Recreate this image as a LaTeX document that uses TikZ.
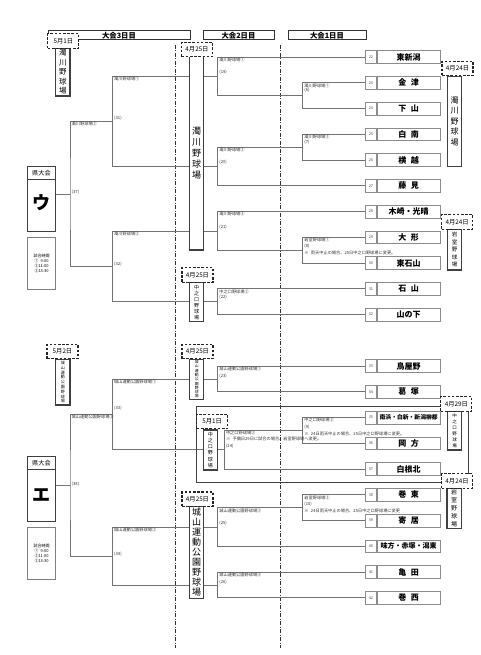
\documentclass[tikz,border=0pt]{standalone}
\usepackage{fontspec}
\setmainfont{Noto Sans CJK JP}[WordSpace=2.5]
\newcommand\teamrow[4]{%
  \node[numbox] (n#1) at (376.7,#2) {#1};
  \node[namebox, font=\bfseries\fontsize{#4}{#4}\selectfont] (t#1) at (376.7,#2) {#3};}
\begin{document}
\begin{tikzpicture}[x=1pt,y=-1pt,
  conn/.style={draw=black!55, line width=0.6pt},
  dashdot/.style={draw=black!80, line width=0.6pt, dash pattern=on 4pt off 1.5pt on 1pt off 1.5pt},
  hdr/.style={draw=black!80, line width=0.8pt, fill=white, minimum height=8.8, inner sep=0, font=\bfseries\fontsize{7.3}{8}\selectfont},
  datebox/.style={draw=black!85, line width=1.1pt, dash pattern=on 2.6pt off 1.6pt, fill=white, minimum width=31, minimum height=14.5, inner sep=0, font=\fontsize{6.3}{7}\selectfont},
  venue/.style={draw=black!75, line width=1.3pt, fill=white, minimum width=14.3, inner sep=0, align=center},
  numbox/.style={draw=black!45, line width=0.6pt, fill=white, minimum width=11, minimum height=12.7, inner sep=0, font=\fontsize{3.8}{4}\selectfont, text=black!70, anchor=east},
  namebox/.style={draw=black!45, line width=0.6pt, fill=white, minimum width=63.3, minimum height=12.7, inner sep=0, anchor=west},
  lbl/.style={anchor=west, inner sep=0, font=\fontsize{4.2}{4.5}\selectfont, text=black!80},
  encl/.style={draw=black!75, line width=1pt},
  kenbox/.style={draw=black!75, line width=1pt, minimum width=28.4, inner sep=0},
  timebox/.style={draw=black!50, line width=0.6pt, minimum width=28.4, inner sep=0, align=center, font=\fontsize{4}{5}\selectfont}
]
\useasboundingbox (0,0) rectangle (480,655);

% day separators
\draw[dashdot] (175.7,45) -- (175.7,648);
\draw[dashdot] (280.7,45) -- (280.7,648);

% headers
\node[hdr, minimum width=142] (h3) at (119,35.3) {大会3日目};
\node[hdr, minimum width=71] (h2) at (238.5,35.3) {大会2日目};
\node[hdr, minimum width=78] (h1) at (327,35.3) {大会1日目};

% teams
\teamrow{22}{57}{東新潟}{8}
\teamrow{23}{82.75}{金 津}{8}
\teamrow{24}{108.5}{下 山}{8}
\teamrow{25}{134.25}{白 南}{8}
\teamrow{26}{160}{横 越}{8}
\teamrow{27}{185.75}{藤 見}{8}
\teamrow{28}{211.5}{木崎・光晴}{8}
\teamrow{29}{237.25}{大 形}{8}
\teamrow{30}{263}{東石山}{8}
\teamrow{31}{288.75}{石 山}{8}
\teamrow{32}{314.5}{山の下}{8}
\teamrow{33}{366}{鳥屋野}{8}
\teamrow{34}{391.75}{葛 塚}{8}
\teamrow{35}{417.5}{南浜・白新・新潟柳都}{5.8}
\teamrow{36}{443.25}{岡 方}{8}
\teamrow{37}{469}{白根北}{8}
\teamrow{38}{494.75}{巻 東}{8}
\teamrow{39}{520.5}{寄 居}{8}
\teamrow{40}{546.25}{味方・赤塚・潟東}{7}
\teamrow{41}{572}{亀 田}{8}
\teamrow{42}{597.75}{巻 西}{8}

% left boxes
\node[kenbox, minimum height=64.3] (uBox) at (41.5,198.85) {};
\draw[draw=black!75, line width=0.8pt] (uBox.west |- 0,179.3) -- (uBox.east |- 0,179.3);
\node[inner sep=0, font=\fontsize{6.2}{7}\selectfont] (uKen) at (41.5,173) {県大会};
\node[inner sep=0, font=\bfseries\fontsize{18}{18}\selectfont] (uMark) at (41.5,203) {ウ};
\node[timebox, minimum height=51.7] (uTime) at (41.5,263.15) {試合時間\\①\ 9:00\\②11:00\\③13:30};

\node[kenbox, minimum height=65] (eBox) at (41.5,489.2) {};
\draw[draw=black!75, line width=0.8pt] (eBox.west |- 0,469.5) -- (eBox.east |- 0,469.5);
\node[inner sep=0, font=\fontsize{6.2}{7}\selectfont] (eKen) at (41.5,463.2) {県大会};
\node[inner sep=0, font=\bfseries\fontsize{18}{18}\selectfont] (eMark) at (41.5,495) {エ};
\node[timebox, minimum height=52] (eTime) at (41.5,553.3) {試合時間\\①\ 9:00\\②11:00\\③13:30};

% match points
\coordinate (m6) at (302.7,95.625);
\coordinate (m7) at (302.7,147.125);
\coordinate (m8) at (302.7,250.125);
\coordinate (m9) at (302.7,430.375);
\coordinate (m10) at (302.7,507.625);
\coordinate (m19) at (217.7,76.3);
\coordinate (m20) at (217.7,166.44);
\coordinate (m21) at (217.7,230.81);
\coordinate (m22) at (217.7,301.63);
\coordinate (m23) at (217.7,378.88);
\coordinate (m24) at (224.3,449.69);
\coordinate (m25) at (217.7,526.94);
\coordinate (m26) at (217.7,584.88);
\coordinate (m31) at (112.5,121.38);
\coordinate (m32) at (112.5,266.22);
\coordinate (m33) at (112.5,414.28);
\coordinate (m34) at (112.5,555.9);
\coordinate (m37) at (70,193.8);
\coordinate (m38) at (70,485.1);

% connectors, upper bracket
\draw[conn] (n23.west) -| (m6) |- (n24.west);
\draw[conn] (n25.west) -| (m7) |- (n26.west);
\draw[conn] (n29.west) -| (m8) |- (n30.west);
\draw[conn] (n22.west) -| (m19) |- (m6);
\draw[conn] (m7) -| (m20) |- (n27.west);
\draw[conn] (n28.west) -| (m21) |- (m8);
\draw[conn] (n31.west) -| (m22) |- (n32.west);
\draw[conn] (m19) -| (m31) |- (m20);
\draw[conn] (m21) -| (m32) |- (m22);
\draw[conn] (m31) -| (m37) |- (m32);
\draw[conn] (m37) -- (m37 -| uBox.east);

% connectors, lower bracket
\draw[conn] (n33.west) -| (m23) |- (n34.west);
\draw[conn] (n35.west) -| (m9) |- (n36.west);
\draw[conn] (m9) -| (m24) |- (n37.west);
\draw[conn] (n38.west) -| (m10) |- (n39.west);
\draw[conn] (m10) -| (m25) |- (n40.west);
\draw[conn] (n41.west) -| (m26) |- (n42.west);
\draw[conn] (m23) -| (m33) |- (m24);
\draw[conn] (m25) -| (m34) |- (m26);
\draw[conn] (m33) -| (m38) |- (m34);
\draw[conn] (m38) -- (m38 -| eBox.east);

% enclosing frame of group 35-37
\draw[encl] (196.7,406) rectangle (468.3,482);

% venue boxes
\node[venue, minimum height=47.7, font=\fontsize{7.5}{9.5}\selectfont] (vA) at (62.85,72.15) {濁\\川\\野\\球\\場};
\node[venue, minimum height=193.3, font=\fontsize{9}{11}\selectfont] (vB) at (196.65,153.35) {濁\\川\\野\\球\\場};
\node[venue, minimum height=90.7, font=\fontsize{8}{10.5}\selectfont] (vC) at (454.5,121.35) {濁\\川\\野\\球\\場};
\node[venue, minimum height=40.7, font=\fontsize{5.5}{7.5}\selectfont] (vD) at (454.5,249.65) {岩\\室\\野\\球\\場};
\node[venue, minimum height=39, font=\fontsize{5}{6}\selectfont] (vE) at (196.65,302.2) {中\\之\\口\\野\\球\\場};
\node[venue, minimum height=45.7, font=\fontsize{4}{4.8}\selectfont] (vF) at (62.85,382.15) {城\\山\\運\\動\\公\\園\\野\\球\\場};
\node[venue, minimum height=40, font=\fontsize{3.8}{4.3}\selectfont] (vG) at (196.65,379.3) {城\\山\\運\\動\\公\\園\\野\\球\\場};
\node[venue, minimum height=39, font=\fontsize{4.5}{6}\selectfont] (vH) at (454.65,430.5) {中\\之\\口\\野\\球\\場};
\node[venue, minimum height=40, font=\fontsize{5}{6.2}\selectfont] (vI) at (210.4,450) {中\\之\\口\\野\\球\\場};
\node[venue, minimum height=40, font=\fontsize{6}{8}\selectfont] (vJ) at (454.2,508.3) {岩\\室\\野\\球\\場};
\node[venue, minimum height=91.6, font=\fontsize{9}{10}\selectfont] (vK) at (196.65,552.5) {城\\山\\運\\動\\公\\園\\野\\球\\場};

% date boxes
\node[datebox] (dA) at (63.35,41.2) {5月1日};
\node[datebox] (dB) at (197,49.5) {4月25日};
\node[datebox] (dC) at (457.5,68.35) {4月24日};
\node[datebox] (dD) at (457.2,221.8) {4月24日};
\node[datebox] (dE) at (197.5,275) {4月25日};
\node[datebox] (dF) at (62.5,351.65) {5月2日};
\node[datebox] (dG) at (197.5,351.65) {4月25日};
\node[datebox] (dH) at (456.35,403.85) {4月29日};
\node[datebox] (dI) at (212.2,421.5) {5月1日};
\node[datebox] (dJ) at (457,481.15) {4月24日};
\node[datebox] (dK) at (197.5,499.2) {4月25日};

% labels, day 1
\node[lbl] (l6a) at (304.2,85.5) {濁川野球場①};
\node[lbl] (l6b) at (304.2,90.5) {(6)};
\node[lbl] (l7a) at (304.2,137) {濁川野球場②};
\node[lbl] (l7b) at (304.2,142.5) {(7)};
\node[lbl] (l8a) at (304.2,240) {岩室野球場①};
\node[lbl] (l8b) at (304.2,246) {(8)};
\node[lbl] (l8c) at (304.2,253.3) {※ 雨天中止の場合、25日中之口野球場に変更。};
\node[lbl] (l9a) at (304.2,420.3) {中之口野球場②};
\node[lbl] (l9b) at (304.2,426.7) {(9)};
\node[lbl] (l9c) at (304.2,433.5) {※ 24日雨天中止の場合、25日中之口野球場に変更。};
\node[lbl] (l10a) at (304.2,498.3) {岩室野球場②};
\node[lbl] (l10b) at (304.2,504.3) {(10)};
\node[lbl] (l10c) at (304.2,511.2) {※ 24日雨天中止の場合、25日中之口野球場に変更};

% labels, day 2
\node[lbl] (l19a) at (219.2,59.5) {濁川野球場①};
\node[lbl] (l19b) at (219.2,72.3) {(19)};
\node[lbl] (l20a) at (219.2,150) {濁川野球場②};
\node[lbl] (l20b) at (219.2,161.7) {(20)};
\node[lbl] (l21a) at (219.2,214) {濁川野球場③};
\node[lbl] (l21b) at (219.2,226.7) {(21)};
\node[lbl] (l22a) at (219.2,291.7) {中之口野球場②};
\node[lbl] (l22b) at (219.2,297) {(22)};
\node[lbl] (l23a) at (219.2,368.7) {城山運動公園野球場①};
\node[lbl] (l23b) at (219.2,375.7) {(23)};
\node[lbl] (l24a) at (225.8,433.2) {中之口野球場②};
\node[lbl] (l24b) at (225.8,438.7) {※ 予備日29日に試合の場合、岩室野球場へ変更。};
\node[lbl] (l24c) at (225.8,446.5) {(24)};
\node[lbl] (l25a) at (219.2,511) {城山運動公園野球場②};
\node[lbl] (l25b) at (219.2,523.3) {(25)};
\node[lbl] (l26a) at (219.2,575.2) {城山運動公園野球場③};
\node[lbl] (l26b) at (219.2,582) {(26)};

% labels, day 3
\node[lbl] (l31a) at (114,78.7) {濁川野球場①};
\node[lbl] (l31b) at (114,117.7) {(31)};
\node[lbl] (l32a) at (114,233.5) {濁川野球場②};
\node[lbl] (l32b) at (114,264) {(32)};
\node[lbl] (l33a) at (114,381.5) {城山運動公園野球場①};
\node[lbl] (l33b) at (114,407.7) {(33)};
\node[lbl] (l34a) at (114,530) {城山運動公園野球場②};
\node[lbl] (l34b) at (114,554) {(34)};
\node[lbl] (l37a) at (71.5,123.8) {濁川野球場③};
\node[lbl] (l37b) at (71.5,192.5) {(37)};
\node[lbl] (l38a) at (71.5,416.7) {城山運動公園野球場③};
\node[lbl] (l38b) at (71.5,484) {(38)};
\end{tikzpicture}
\end{document}
